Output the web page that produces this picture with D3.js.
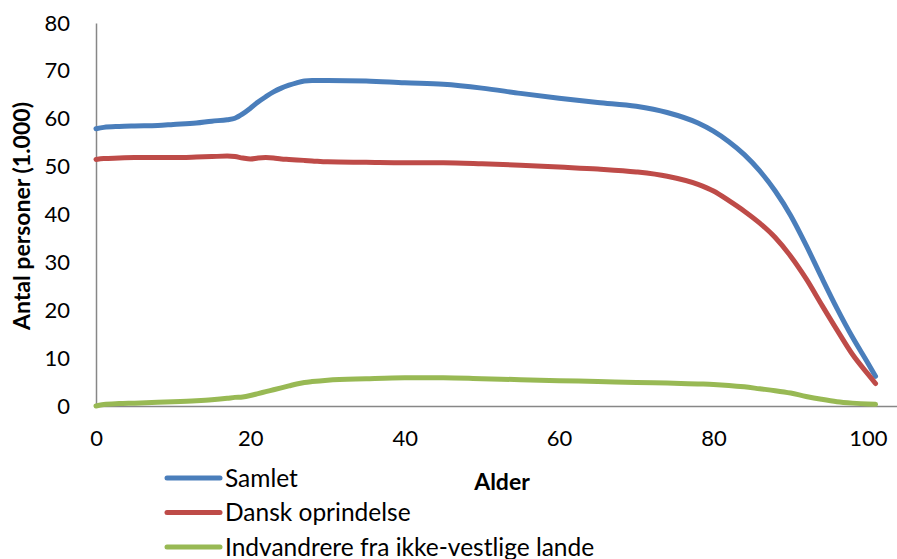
<!DOCTYPE html>
<html>
<head>
<meta charset="utf-8">
<script src="https://cdn.jsdelivr.net/npm/d3@7"></script>
<style>
  body { margin: 0; background: #fff; }
  svg { display: block; font-family: Lato, "Open Sans", sans-serif; }
</style>
</head>
<body>
<div id="chart"></div>
<script>
// ages
const ages = [0, 1, 3, 5, 8, 10, 13, 15, 17, 18, 19, 20, 21, 22, 23, 24, 25, 26, 27, 28,
  30, 35, 40, 45, 50, 55, 60, 65, 70, 74, 78, 80, 82, 84, 86, 88, 90, 92, 94, 96, 98, 100, 101];

// thousands of persons
const samlet = [57.9, 58.2, 58.4, 58.5, 58.6, 58.8, 59.1, 59.5, 59.8, 60.1, 61.0, 62.2, 63.5, 64.6, 65.6, 66.4, 67.0, 67.5, 67.9, 68.0,
  68.0, 67.9, 67.5, 67.2, 66.4, 65.3, 64.3, 63.4, 62.6, 61.3, 59.1, 57.4, 55.2, 52.5, 49.1, 44.9, 39.8, 33.6, 26.9, 20.4, 14.4, 9.0, 6.2];
const dansk = [51.5, 51.7, 51.8, 51.9, 51.9, 51.9, 52.0, 52.1, 52.2, 52.1, 51.8, 51.6, 51.8, 51.9, 51.8, 51.6, 51.5, 51.4, 51.3, 51.2,
  51.0, 50.9, 50.8, 50.8, 50.6, 50.3, 49.9, 49.5, 48.9, 48.0, 46.3, 44.9, 42.9, 40.7, 38.2, 35.2, 31.3, 26.6, 21.2, 15.9, 10.8, 6.7, 4.7];
const ikkeVestlige = [0.0, 0.3, 0.5, 0.6, 0.8, 0.9, 1.1, 1.3, 1.6, 1.8, 1.9, 2.2, 2.6, 3.0, 3.4, 3.8, 4.2, 4.6, 4.9, 5.1,
  5.4, 5.7, 5.9, 5.9, 5.7, 5.5, 5.3, 5.1, 4.9, 4.8, 4.6, 4.5, 4.3, 4.0, 3.6, 3.2, 2.7, 2.0, 1.4, 0.9, 0.6, 0.4, 0.35];

const seriesNames = ["Samlet", "Dansk oprindelse", "Indvandrere fra ikke-vestlige lande"];
const xTicks = [0, 20, 40, 60, 80, 100];
const yTicks = [0, 10, 20, 30, 40, 50, 60, 70, 80];

const series = [
  { name: seriesNames[0], values: samlet, color: "#4a7ebb" },
  { name: seriesNames[1], values: dansk, color: "#be4b48" },
  { name: seriesNames[2], values: ikkeVestlige, color: "#98b954" }
];

const width = 897, height = 559;

const svg = d3.select("#chart")
  .append("svg")
  .attr("width", width)
  .attr("height", height);

const x = d3.scaleLinear().domain([0, 110]).range([96, 945]);
const y = d3.scaleLinear().domain([0, 80]).range([406, 23]);

// axes (no tick marks, grey lines like the original)
const xAxis = svg.append("g")
  .attr("transform", `translate(0,${y(0)})`)
  .call(d3.axisBottom(x).tickValues(xTicks).tickSize(0).tickPadding(24));
const yAxis = svg.append("g")
  .attr("transform", `translate(${x(0)},0)`)
  .call(d3.axisLeft(y).tickValues(yTicks).tickSize(0).tickPadding(26));

[xAxis, yAxis].forEach(a => {
  a.select(".domain").attr("stroke", "#878787").attr("stroke-width", 1.5);
  a.selectAll("text")
    .style("font-family", "Lato, sans-serif")
    .style("font-size", "22px")
    .attr("fill", "#000");
});

const line = d3.line()
  .x((d, i) => x(ages[i]))
  .y(d => y(d))
  .curve(d3.curveMonotoneX);

svg.selectAll(".series")
  .data(series)
  .enter()
  .append("path")
  .attr("class", "series")
  .attr("d", d => line(d.values))
  .attr("fill", "none")
  .attr("stroke", d => d.color)
  .attr("stroke-width", 5)
  .attr("stroke-linecap", "round")
  .attr("stroke-linejoin", "round");

// axis titles
svg.append("text")
  .attr("x", 502)
  .attr("y", 490)
  .attr("text-anchor", "middle")
  .style("font-size", "23px")
  .style("font-weight", "bold")
  .text("Alder");

svg.append("text")
  .attr("transform", "translate(30,216) rotate(-90)")
  .attr("text-anchor", "middle")
  .style("font-size", "23px")
  .style("font-weight", "bold")
  .text("Antal personer (1.000)");

// legend (last entry runs off the bottom edge, as in the original)
const legend = svg.selectAll(".legend")
  .data(series)
  .enter()
  .append("g")
  .attr("class", "legend")
  .attr("transform", (d, i) => `translate(167,${478 + i * 34.5})`);

legend.append("line")
  .attr("x1", 0).attr("x2", 53)
  .attr("stroke", d => d.color)
  .attr("stroke-width", 5)
  .attr("stroke-linecap", "round");

legend.append("text")
  .attr("x", 58)
  .attr("dy", "0.35em")
  .style("font-size", "24.5px")
  .text(d => d.name);
</script>
</body>
</html>
